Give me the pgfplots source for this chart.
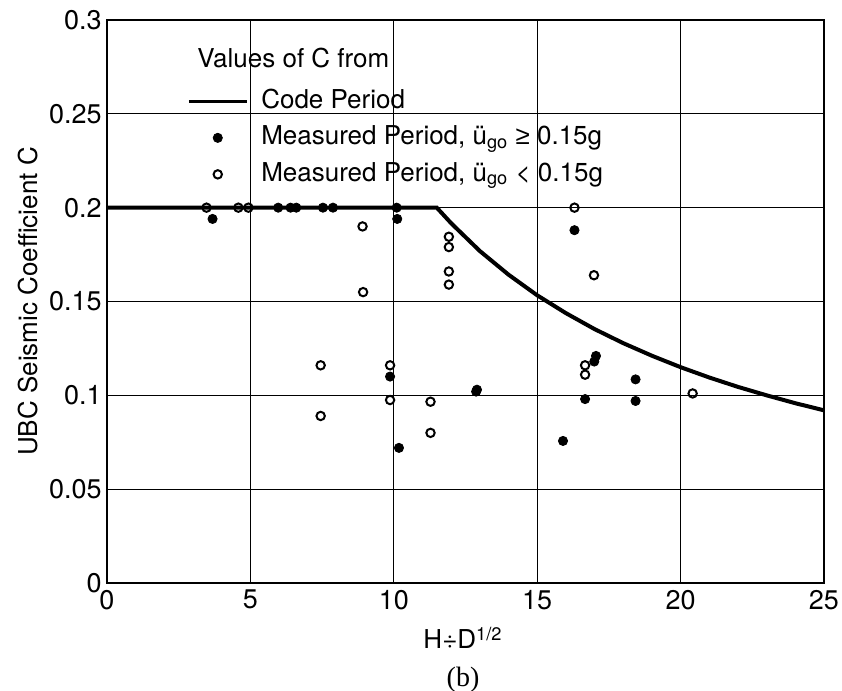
\documentclass[border=0pt]{standalone}
\usepackage{fontspec}
\setmainfont{TeX Gyre Heros}
\newfontfamily\symf{Liberation Sans}
\newfontfamily\serf{Liberation Serif}
\usepackage{pgfplots}
\pgfplotsset{compat=1.18}
\pgfplotsset{
  lineleg/.style={legend image code/.code={\draw[##1,line width=1.5pt] (0pt,0pt) -- (29pt,0pt);}},
  markleg/.style={legend image code/.code={\draw[##1] plot coordinates {(14.5pt,0pt)};}},
}
\begin{document}
\begin{tikzpicture}[font=\fontsize{13}{15}\selectfont]
\useasboundingbox (-53.5pt,-54pt) rectangle (367.5pt,291.5pt);
\begin{axis}[
  at={(0,0)}, anchor=south west,
  scale only axis, width=358.5pt, height=281.5pt,
  xmin=0, xmax=25, ymin=0, ymax=0.3,
  xtick={0,5,10,15,20,25},
  ytick={0,0.05,0.1,0.15,0.2,0.25,0.3},
  yticklabels={0,0.05,0.1,0.15,0.2,0.25,0.3},
  /pgf/number format/assume math mode=true,
  tick style={draw=none},
  grid=major,
  major grid style={black, line width=0.6pt},
  axis line style={black, line width=0.8pt},
  tick label style={font=\fontsize{13.5}{15}\selectfont},
  yticklabel style={inner xsep=2.5pt},
  xlabel={H÷D\textsuperscript{1/2}},
  ylabel={UBC Seismic Coefficient C},
  label style={font=\fontsize{13}{15}\selectfont},
  xlabel style={at={(axis description cs:0.4965,0)}, anchor=center, yshift=-27.5pt},
  ylabel style={at={(axis description cs:0,0.5)}, anchor=center, yshift=39.5pt},
  legend style={draw=none, fill=none, at={(axis cs:2.785,0.2372)}, anchor=west,
    inner sep=0pt, row sep=2.25pt, font=\fontsize{13}{15}\selectfont,
    nodes={text height=9.5pt, text depth=2.5pt},
    /tikz/every odd column/.append style={column sep=4.5pt}},
  legend cell align=left,
  clip=false,
]
\addplot[black, line width=2pt, lineleg]
  coordinates {(0,0.2) (11.5,0.2) (12,0.1917) (13,0.1769) (14,0.1643) (15,0.1533) (16,0.1438) (17,0.1353) (18,0.1278) (19,0.1211) (20,0.115) (21,0.1095) (22,0.1045) (23,0.1) (24,0.0958) (25,0.092)};
\addlegendentry{Code Period}
\addplot[only marks, mark=*, mark size=2.3pt, black, markleg]
  coordinates {(3.68,0.194) (5.97,0.2) (6.4,0.2) (6.6,0.2) (7.53,0.2) (7.88,0.2) (10.1,0.2) (10.12,0.194)
   (9.87,0.110) (10.18,0.072) (12.87,0.102) (12.9,0.103) (15.9,0.0757) (16.3,0.188) (16.67,0.098)
   (16.99,0.118) (17.05,0.121) (18.43,0.1085) (18.43,0.097)};
\addlegendentry{Measured Period, ü\textsubscript{go} {\symf ≥} 0.15g}
\addplot[only marks, mark=o, mark size=2.1pt, black, mark options={line width=1pt, fill=white}, markleg]
  coordinates {(3.47,0.2) (4.58,0.2) (4.93,0.2) (8.91,0.190) (8.93,0.155) (7.45,0.116) (7.45,0.089)
   (9.87,0.116) (9.87,0.0975) (11.28,0.0966) (11.28,0.080) (11.92,0.1845) (11.92,0.179) (11.92,0.166)
   (11.92,0.159) (16.3,0.200) (16.98,0.164) (16.67,0.116) (16.67,0.111) (20.42,0.101)};
\addlegendentry{Measured Period, ü\textsubscript{go} < 0.15g}
\end{axis}
\node[anchor=west, inner sep=0pt] at (45pt,262.5pt) {Values of C from};
\node at (178pt,-48.5pt) {\serf\fontsize{14}{15}\selectfont (b)};
\end{tikzpicture}
\end{document}
